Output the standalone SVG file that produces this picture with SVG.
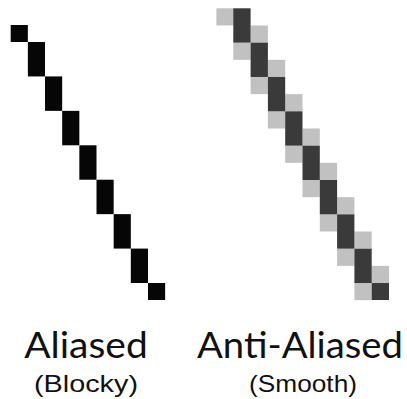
<svg xmlns="http://www.w3.org/2000/svg" width="407" height="399" viewBox="0 0 407 399">
<style>
.blk{fill:#060606}
.dk{fill:#3a3a3a}
.lt{fill:#c1c1c1}
.t1{font-family:Lato,"Open Sans","Liberation Sans",sans-serif;font-size:37px;fill:#111}
.t2{font-family:"Liberation Sans",Arial,sans-serif;font-size:24px;fill:#111}
</style>
<rect width="407" height="399" fill="#fff"/>
<g id="aliased-line">
<rect class="blk" x="10.7" y="25" width="17.16" height="17"/>
<rect class="blk" x="27.86" y="42" width="17.16" height="34.43"/>
<rect class="blk" x="45.02" y="76.43" width="17.16" height="34.43"/>
<rect class="blk" x="62.18" y="110.86" width="17.16" height="34.43"/>
<rect class="blk" x="79.34" y="145.29" width="17.16" height="34.43"/>
<rect class="blk" x="96.5" y="179.72" width="17.16" height="34.43"/>
<rect class="blk" x="113.66" y="214.15" width="17.16" height="34.43"/>
<rect class="blk" x="130.82" y="248.58" width="17.16" height="34.43"/>
<rect class="blk" x="147.98" y="283" width="17.16" height="17"/>
</g>
<g id="antialiased-line">
<rect class="lt" x="216.4" y="8.3" width="17.3" height="17.17"/>
<rect class="lt" x="233.3" y="42.64" width="17.3" height="17.17"/>
<rect class="lt" x="250.6" y="76.98" width="17.3" height="17.17"/>
<rect class="lt" x="267.9" y="111.32" width="17.3" height="17.17"/>
<rect class="lt" x="285.2" y="145.66" width="17.3" height="17.17"/>
<rect class="lt" x="302.5" y="180" width="17.3" height="17.17"/>
<rect class="lt" x="319.8" y="214.34" width="17.3" height="17.17"/>
<rect class="lt" x="337.1" y="248.68" width="17.3" height="17.17"/>
<rect class="lt" x="354.4" y="283.02" width="17.3" height="17.17"/>
<rect class="lt" x="250.6" y="25.47" width="17.3" height="17.17"/>
<rect class="lt" x="267.9" y="59.81" width="17.3" height="17.17"/>
<rect class="lt" x="285.2" y="94.15" width="17.3" height="17.17"/>
<rect class="lt" x="302.5" y="128.49" width="17.3" height="17.17"/>
<rect class="lt" x="319.8" y="162.83" width="17.3" height="17.17"/>
<rect class="lt" x="337.1" y="197.17" width="17.3" height="17.17"/>
<rect class="lt" x="354.4" y="231.51" width="17.3" height="17.17"/>
<rect class="lt" x="371.7" y="265.85" width="17.3" height="17.17"/>
<rect class="dk" x="233.3" y="8.3" width="17.3" height="34.34"/>
<rect class="dk" x="250.6" y="42.64" width="17.3" height="34.34"/>
<rect class="dk" x="267.9" y="76.98" width="17.3" height="34.34"/>
<rect class="dk" x="285.2" y="111.32" width="17.3" height="34.34"/>
<rect class="dk" x="302.5" y="145.66" width="17.3" height="34.34"/>
<rect class="dk" x="319.8" y="180" width="17.3" height="34.34"/>
<rect class="dk" x="337.1" y="214.34" width="17.3" height="34.34"/>
<rect class="dk" x="354.4" y="248.68" width="17.3" height="34.34"/>
<rect class="dk" x="371.7" y="283.02" width="17.3" height="17"/>
</g>
<g id="labels">
<text class="t1" x="24.3" y="357.5" textLength="123.4" lengthAdjust="spacingAndGlyphs">Aliased</text>
<text class="t2" x="34" y="392" textLength="104" lengthAdjust="spacingAndGlyphs">(Blocky)</text>
<text class="t1" x="197" y="357.5" textLength="206" lengthAdjust="spacingAndGlyphs">Anti-Aliased</text>
<text class="t2" x="249" y="392" textLength="108" lengthAdjust="spacingAndGlyphs">(Smooth)</text>
</g>
</svg>
